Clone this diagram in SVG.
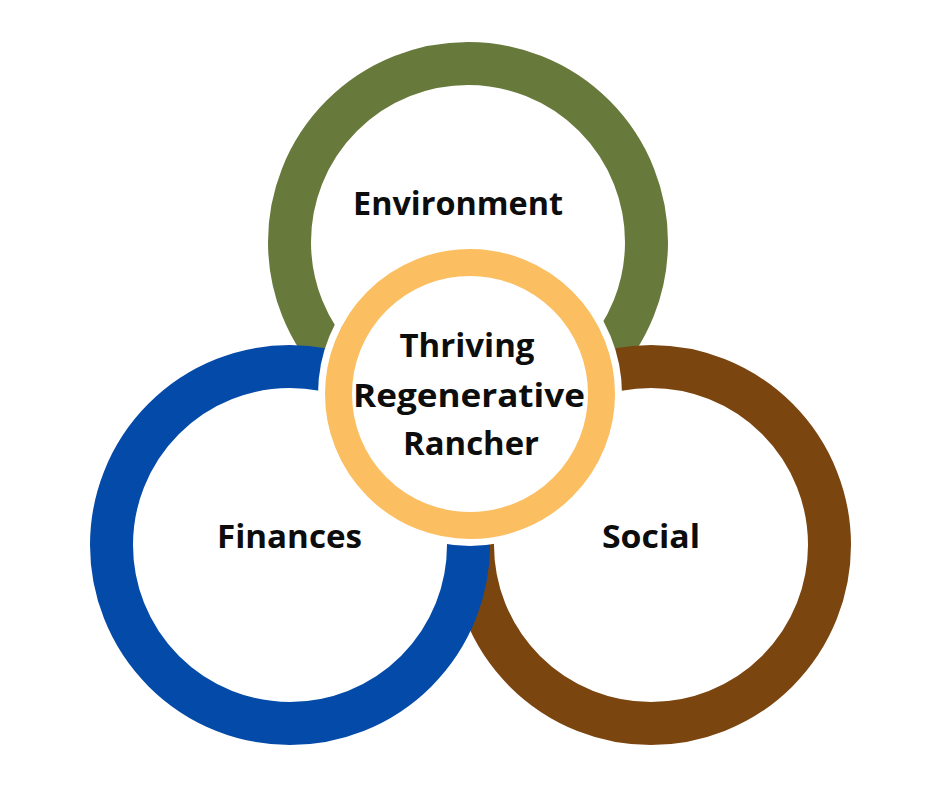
<svg xmlns="http://www.w3.org/2000/svg" width="940" height="788" viewBox="0 0 940 788">
  <style>
    .ring { fill: none; stroke-width: 43; }
    .lbl { font-family: "Open Sans", Lato, "Liberation Sans", sans-serif; font-weight: 700; font-size: 33px; fill: #0d0d0d; text-anchor: middle; }
  </style>
  <rect width="940" height="788" fill="#ffffff"/>
  <g id="environment">
    <circle class="ring" cx="468" cy="242" r="178.5" stroke="#67793b"/>
    <text class="lbl" x="458" y="215" textLength="210" lengthAdjust="spacingAndGlyphs">Environment</text>
  </g>
  <g id="social">
    <circle class="ring" cx="651" cy="545" r="178.5" stroke="#7b450f"/>
    <text class="lbl" x="651" y="548" textLength="98" lengthAdjust="spacingAndGlyphs">Social</text>
  </g>
  <g id="finances">
    <circle class="ring" cx="290" cy="545" r="178.5" stroke="#044aa8"/>
    <text class="lbl" x="289.5" y="548" textLength="145" lengthAdjust="spacingAndGlyphs">Finances</text>
  </g>
  <g id="center">
    <circle cx="470" cy="394" r="152" fill="#ffffff"/>
    <circle cx="470" cy="394" r="131.5" fill="none" stroke="#fbbe60" stroke-width="27"/>
    <text class="lbl" x="467" y="357" textLength="135" lengthAdjust="spacingAndGlyphs">Thriving</text>
    <text class="lbl" x="469" y="407" textLength="232" lengthAdjust="spacingAndGlyphs">Regenerative</text>
    <text class="lbl" x="471" y="455" textLength="136" lengthAdjust="spacingAndGlyphs">Rancher</text>
  </g>
  <g id="connectors"/>
</svg>
